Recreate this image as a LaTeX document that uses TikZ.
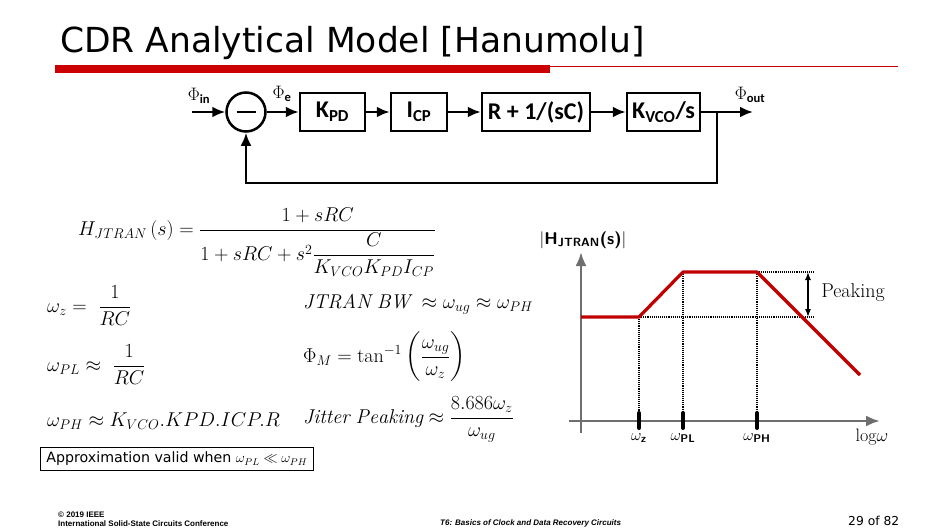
\documentclass[tikz,border=0pt]{standalone}
\usepackage{fix-cm}
\usepackage{amsmath}
\usepackage{fontspec}
\newfontfamily\slidefont{DejaVu Sans}
\newfontfamily\calibri{Carlito}
\newfontfamily\arialfont{Liberation Sans}
\usetikzlibrary{arrows.meta,positioning}
\definecolor{isscred}{RGB}{204,0,0}
\definecolor{curvered}{RGB}{192,0,0}
\definecolor{axisgray}{RGB}{110,110,110}

\tikzset{
  blk/.style={draw, line width=2.5pt, minimum height=38pt, inner sep=0pt,
    font=\calibri\bfseries\fontsize{24}{24}\selectfont},
  sig/.style={line width=2.5pt, -{Latex[length=13pt,width=11pt]}},
  philab/.style={inner sep=0pt, font=\fontsize{18}{18}\selectfont},
  eqn/.style={anchor=base west, inner sep=0pt, font=\fontsize{20}{24}\selectfont},
  graphaxis/.style={axisgray, line width=2.6pt, -{Latex[length=14pt,width=11pt]}},
  resp/.style={curvered, line width=3.2pt, line join=round},
  guide/.style={densely dotted, line width=1.1pt},
  wtick/.style={line width=4pt, line cap=round},
  glab/.style={inner sep=0pt, font=\fontsize{16}{16}\selectfont},
  foot/.style={anchor=base west, inner sep=0pt, font=\arialfont\bfseries\fontsize{8}{9}\selectfont},
}

\begin{document}
\begin{tikzpicture}[x=1pt,y=-1pt]
  \useasboundingbox (0,0) rectangle (951,530);

  % title
  \node[anchor=base west, inner sep=0pt, font=\slidefont\fontsize{34.5}{40}\selectfont] (title) at (60,52) {CDR Analytical Model [Hanumolu]};
  \fill[isscred] (55,65) rectangle (550,73);
  \draw[isscred, line width=1pt] (550,66) -- (898,66);

  % loop
  \node[draw, circle, line width=2.5pt, minimum size=39pt, inner sep=0pt] (sum) at (246,112) {};
  \draw[line width=2.5pt] ([xshift=-9.5pt]sum.center) -- ([xshift=9.5pt]sum.center);
  \node[blk, minimum width=65pt] (kpd) at (332.5,112) {K\textsubscript{PD}};
  \node[blk, minimum width=56pt] (icp) at (419,112) {I\textsubscript{CP}};
  \node[blk, minimum width=108pt] (filt) at (536,112) {R + 1/(sC)};
  \node[blk, minimum width=73pt] (kvco) at (663.5,112) {K\textsubscript{VCO}/s};
  \coordinate (in) at (192,112);
  \coordinate (br) at (717,112);
  \coordinate (out) at (753,112);

  \draw[sig] (in) -- (sum);
  \draw[sig] (sum) -- (kpd);
  \draw[sig] (kpd) -- (icp);
  \draw[sig] (icp) -- (filt);
  \draw[sig] (filt) -- (kvco);
  \draw[sig] (kvco) -- (out);
  \draw[sig] (br) -- ++(0,71) -| (sum.south);

  \node[philab] (phin) at (199,96) {$\Phi_{\text{\calibri\bfseries in}}$};
  \node[philab] (phe) at (282,94) {$\Phi_{\text{\calibri\bfseries e}}$};
  \node[philab] (phout) at (750,95) {$\Phi_{\text{\calibri\bfseries out}}$};

  % equations
  \node[eqn] (hjt) at (78,235) {$H_{JTRAN}\,(s) = \dfrac{1+sRC}{1+sRC+s^2\dfrac{C}{K_{VCO}K_{PD}I_{CP}}}$};
  \node[eqn] (wz) at (47,312) {$\omega_z = \ \dfrac{1}{RC}$};
  \node[eqn] (wpl) at (47,371) {$\omega_{PL} \approx \ \dfrac{1}{RC}$};
  \node[eqn] (wph) at (47,426) {$\omega_{PH} \approx K_{VCO}.KPD.ICP.R$};
  \node[eqn] (bw) at (303,308) {$\mathit{JTRAN\ BW}\ \approx \omega_{ug} \approx \omega_{PH}$};
  \node[eqn] (pm) at (303,362) {$\Phi_M = \tan^{-1}\left(\dfrac{\omega_{ug}}{\omega_z}\right)$};
  \node[eqn] (jp) at (303,423) {$\mathit{Jitter\ Peaking} \approx \dfrac{8.686\omega_z}{\omega_{ug}}$};

  \node[draw, line width=0.8pt, anchor=west, inner xsep=6pt, inner ysep=3pt, minimum height=23pt,
    font=\slidefont\fontsize{14.2}{16}\selectfont] (apx) at (40,459)
    {Approximation valid when {\fontsize{14}{16}\selectfont$\omega_{PL} \ll \omega_{PH}$}};

  % response plot
  \coordinate (org) at (581,421);
  \coordinate (z) at (639,317);
  \coordinate (pl) at (683,272);
  \coordinate (ph) at (757,272);
  \coordinate (hi) at (815,272);
  \coordinate (lo) at (815,317);
  \draw[graphaxis] (581,433) -- (581,252);
  \draw[graphaxis] (569,421) -- (880,421);
  \foreach \p in {z,pl,ph}
    \draw[guide] (\p) -- (\p |- org);
  \draw[guide] (z) -- (lo);
  \draw[guide] (pl) -- (hi);
  \draw[resp] (581,317) -- (z) -- (pl) -- (ph) -- (860,375);
  \foreach \p in {z,pl,ph}
    \draw[wtick] (\p |- org) ++(0,-8) -- ++(0,15);
  \draw[line width=1.3pt, {Latex[length=8pt,width=6pt]}-{Latex[length=8pt,width=6pt]}] (808,272) -- (808,317);

  \node[glab, font=\fontsize{17}{17}\selectfont] (hlab) at (583,240) {$\left|\text{\sffamily\bfseries H}_{\text{\sffamily\bfseries JTRAN}}\text{\sffamily\bfseries (s)}\right|$};
  \node[glab, font=\fontsize{20}{20}\selectfont] (peak) at (853,293) {Peaking};
  \node[glab] (lz) at (639,438) {$\omega_{\text{\sffamily\bfseries z}}$};
  \node[glab] (lpl) at (683,438) {$\omega_{\text{\sffamily\bfseries PL}}$};
  \node[glab] (lph) at (757,438) {$\omega_{\text{\sffamily\bfseries PH}}$};
  \node[glab, font=\fontsize{18}{18}\selectfont] (logw) at (872,437) {$\mathrm{log}\omega$};

  % footer
  \node[foot] (copy) at (58,517) {\textcopyright{} 2019 IEEE};
  \node[foot] (conf) at (58,526) {International Solid-State Circuits Conference};
  \node[foot, font=\arialfont\bfseries\itshape\fontsize{8}{9}\selectfont] (course) at (440,525) {T6: Basics of Clock and Data Recovery Circuits};
  \node[anchor=base west, inner sep=0pt, font=\slidefont\fontsize{12.3}{14}\selectfont] (pg) at (848,525) {29 of 82};
\end{tikzpicture}
\end{document}
